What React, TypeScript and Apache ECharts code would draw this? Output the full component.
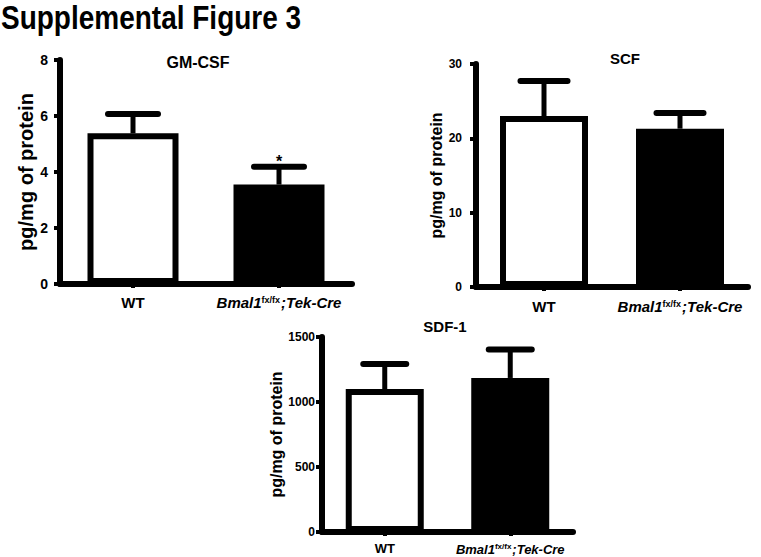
import React, { useEffect, useRef } from "react";
import * as echarts from "echarts";

const categories = ["WT", "Bmal1fx/fx;Tek-Cre"];

const gmcsfMean = [5.38, 3.55];
const gmcsfUpper = [6.07, 4.19];
const gmcsfSignif = ["", "*"];

const scfMean = [23.0, 21.3];
const scfUpper = [27.7, 23.4];
const scfSignif = ["", ""];

const sdfMean = [1100, 1185];
const sdfUpper = [1292, 1404];
const sdfSignif = ["", ""];

const panelTitles = ["GM-CSF", "SCF", "SDF-1"];
const yName = "pg/mg of protein";
const figureTitle = "Supplemental Figure 3";

const FONT = "'Liberation Sans', Arial, Helvetica, sans-serif";

type Panel = {
  mean: number[];
  upper: number[];
  signif: string[];
  max: number;
  interval: number;
  grid: { left: number; top: number; width: number; height: number };
  barWidth: number;
  capWidth: number;
  tickFont: number;
  tickMargin: number;
  nameFont: number;
  nameGap: number;
  catFont: number;
  catMargin: number;
  supFont: number;
};

const panels: Panel[] = [
  {
    mean: gmcsfMean,
    upper: gmcsfUpper,
    signif: gmcsfSignif,
    max: 8,
    interval: 2,
    grid: { left: 60, top: 60, width: 292, height: 224 },
    barWidth: 91,
    capWidth: 50,
    tickFont: 14,
    tickMargin: 12,
    nameFont: 20,
    nameGap: 14,
    catFont: 15,
    catMargin: 11,
    supFont: 9,
  },
  {
    mean: scfMean,
    upper: scfUpper,
    signif: scfSignif,
    max: 30,
    interval: 10,
    grid: { left: 476, top: 64, width: 272, height: 223 },
    barWidth: 88,
    capWidth: 47,
    tickFont: 12,
    tickMargin: 14,
    nameFont: 16,
    nameGap: 31,
    catFont: 15,
    catMargin: 12,
    supFont: 9,
  },
  {
    mean: sdfMean,
    upper: sdfUpper,
    signif: sdfSignif,
    max: 1500,
    interval: 500,
    grid: { left: 322, top: 337, width: 251, height: 195 },
    barWidth: 78,
    capWidth: 43,
    tickFont: 12,
    tickMargin: 7,
    nameFont: 16,
    nameGap: 36,
    catFont: 13,
    catMargin: 10,
    supFont: 8,
  },
];

const titlePos = [
  { x: 198, y: 62, size: 16 },
  { x: 625, y: 58, size: 15 },
  { x: 445, y: 326, size: 15 },
];

function buildOption() {
  const grids: any[] = [];
  const xAxes: any[] = [];
  const yAxes: any[] = [];
  const series: any[] = [];

  panels.forEach((p, i) => {
    grids.push({ ...p.grid, containLabel: false });
    xAxes.push({
      type: "category",
      gridIndex: i,
      data: categories,
      boundaryGap: true,
      axisLine: { show: true, lineStyle: { color: "#000", width: 6, cap: "round" } },
      axisTick: { show: true, alignWithLabel: true, length: 4, lineStyle: { color: "#000", width: 4 } },
      axisLabel: {
        interval: 0,
        hideOverlap: false,
        margin: p.catMargin,
        color: "#000",
        fontFamily: FONT,
        formatter: (v: string) => {
          if (v === "WT") return "{w|WT}";
          return "{b|Bmal1}{s|fx/fx}{b|;Tek-Cre}";
        },
        rich: {
          w: { fontSize: p.catFont, fontWeight: "bold", fontFamily: FONT, color: "#000" },
          b: { fontSize: p.catFont, fontWeight: "bold", fontStyle: "italic", fontFamily: FONT, color: "#000" },
          s: {
            fontSize: p.supFont,
            fontWeight: "bold",
            fontFamily: FONT,
            color: "#000",
            verticalAlign: "top",
            padding: [0, 1, 6, 0],
          },
        },
      },
      splitLine: { show: false },
    });
    yAxes.push({
      type: "value",
      gridIndex: i,
      min: 0,
      max: p.max,
      interval: p.interval,
      name: yName,
      nameLocation: "middle",
      nameRotate: 90,
      nameGap: p.nameGap,
      nameTextStyle: { fontSize: p.nameFont, fontWeight: "bold", fontFamily: FONT, color: "#000" },
      axisLine: { show: true, lineStyle: { color: "#000", width: 6, cap: "round" } },
      axisTick: { show: true, length: 6, lineStyle: { color: "#000", width: 4 } },
      axisLabel: {
        margin: p.tickMargin,
        fontSize: p.tickFont,
        fontWeight: "bold",
        fontFamily: FONT,
        color: "#000",
        formatter: (v: number) => String(v),
      },
      splitLine: { show: false },
    });
    series.push({
      type: "bar",
      xAxisIndex: i,
      yAxisIndex: i,
      barWidth: p.barWidth,
      data: p.mean.map((v, k) => ({
        value: v,
        itemStyle: {
          color: k === 0 ? "#fff" : "#000",
          borderColor: "#000",
          borderWidth: 6,
        },
      })),
      z: 2,
    });
    series.push({
      type: "custom",
      xAxisIndex: i,
      yAxisIndex: i,
      data: p.mean.map((v, k) => [k, v, p.upper[k]]),
      encode: { x: 0, y: [1, 2] },
      z: 3,
      renderItem: (params: any, api: any) => {
        const idx = params.dataIndex;
        const base = api.coord([api.value(0), api.value(1)]);
        const top = api.coord([api.value(0), api.value(2)]);
        const half = p.capWidth / 2;
        const children: any[] = [
          {
            type: "line",
            shape: { x1: base[0], y1: base[1], x2: top[0], y2: top[1] },
            style: { stroke: "#000", lineWidth: 5 },
          },
          {
            type: "line",
            shape: { x1: top[0] - half, y1: top[1], x2: top[0] + half, y2: top[1] },
            style: { stroke: "#000", lineWidth: 6, lineCap: "round" },
          },
        ];
        const mark = p.signif[idx];
        if (mark) {
          children.push({
            type: "text",
            x: top[0],
            y: top[1] - 5,
            style: {
              text: mark,
              fontSize: 16,
              fontWeight: "bold",
              fontFamily: FONT,
              fill: "#000",
              textAlign: "center",
              textVerticalAlign: "middle",
            },
          });
        }
        return { type: "group", children };
      },
    });
  });

  const graphic: any[] = [
    {
      type: "text",
      x: 1,
      y: 1,
      scaleY: 1.18,
      style: {
        text: figureTitle,
        fontSize: 28,
        fontWeight: "bold",
        fontFamily: FONT,
        fill: "#000",
        textAlign: "left",
        textVerticalAlign: "top",
      },
    },
    ...panelTitles.map((t, i) => ({
      type: "text",
      x: titlePos[i].x,
      y: titlePos[i].y,
      style: {
        text: t,
        fontSize: titlePos[i].size,
        fontWeight: "bold",
        fontFamily: FONT,
        fill: "#000",
        textAlign: "center",
        textVerticalAlign: "middle",
      },
    })),
  ];

  return {
    animation: false,
    backgroundColor: "#fff",
    grid: grids,
    xAxis: xAxes,
    yAxis: yAxes,
    series,
    graphic,
  };
}

export default function App() {
  const ref = useRef<HTMLDivElement>(null);
  useEffect(() => {
    if (!ref.current) return;
    const chart = echarts.init(ref.current, undefined, { renderer: "svg" });
    chart.setOption(buildOption());
    return () => chart.dispose();
  }, []);
  return (
    <div
      ref={ref}
      style={{ position: "absolute", left: 0, top: 0, width: 761, height: 557, background: "#fff" }}
    />
  );
}
